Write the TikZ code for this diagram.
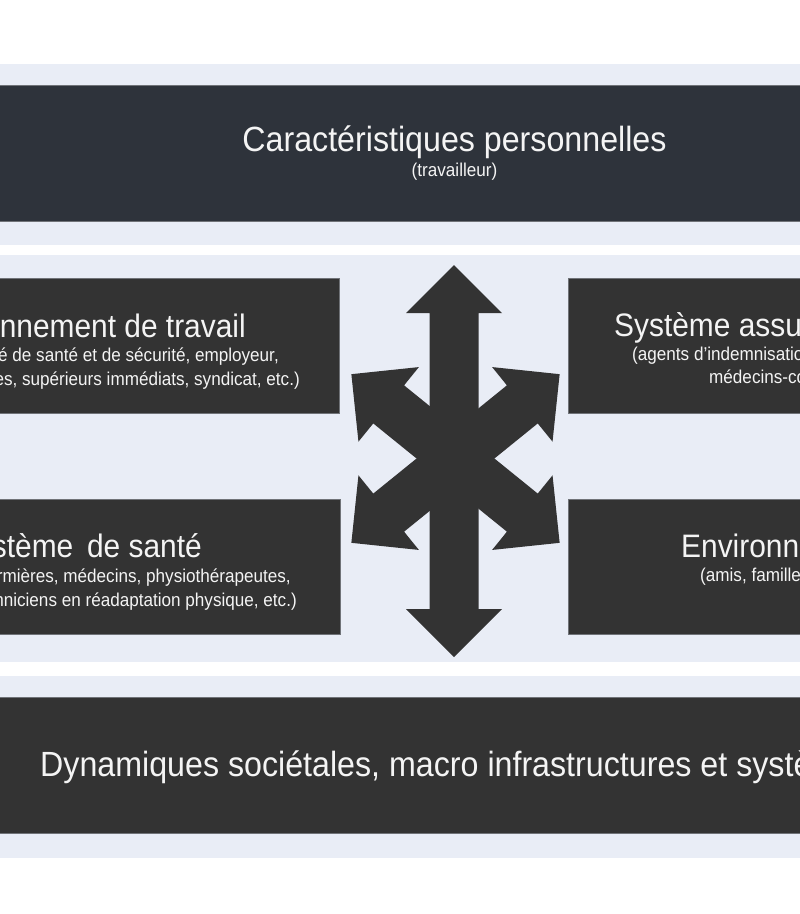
\documentclass[tikz,border=0pt]{standalone}
\usepackage{fontspec}
\setmainfont{Liberation Sans}[FakeStretch=0.92]
\definecolor{band}{HTML}{E9EDF6}
\definecolor{topbox}{HTML}{2E333B}
\definecolor{boxc}{HTML}{333333}
\definecolor{edge}{HTML}{707378}
\definecolor{txt}{HTML}{F4F4F4}
\newcommand{\DblArrow}[1]{%
  \fill[boxc] (-#1,0) -- (-#1+48,48) -- (-#1+48,24.5) -- (#1-48,24.5) -- (#1-48,48)
    -- (#1,0) -- (#1-48,-48) -- (#1-48,-24.5) -- (-#1+48,-24.5) -- (-#1+48,-48) -- cycle;}
\begin{document}
\begin{tikzpicture}[x=1pt,y=-1pt,
  bandfill/.style={fill=band},
  darkbox/.style={fill=boxc,draw=edge,line width=0.8pt},
  bigtxt/.style={text=txt,inner sep=0pt,font=\fontsize{35}{40}\selectfont},
  midtxt/.style={text=txt,inner sep=0pt,font=\fontsize{32.5}{38}\selectfont},
  smalltxt/.style={text=txt,inner sep=0pt,font=\fontsize{18.6}{22}\selectfont}]
\useasboundingbox (0,0) rectangle (800,914);
\clip (0,0) rectangle (800,914);
\fill[white] (0,0) rectangle (800,914);
% bands
\fill[bandfill] (-10,64) rectangle (810,245);
\fill[bandfill] (-10,255) rectangle (810,662);
\fill[bandfill] (-10,676) rectangle (810,858);
% top box
\draw[darkbox,fill=topbox] (-10,85) rectangle (810,221);
\node[bigtxt,anchor=base] (cp) at (454.5,151) {Caractéristiques personnelles};
\node[smalltxt,anchor=base] (cpsub) at (454.5,176) {(travailleur)};
% middle boxes
\draw[darkbox] (-10,278) rectangle (339,413);
\draw[darkbox] (568,278) rectangle (810,413);
\draw[darkbox] (-10,499) rectangle (340,634);
\draw[darkbox] (568,499) rectangle (810,634);
% left top
\node[midtxt,anchor=base east] (et) at (246,337) {Environnement de travail};
\node[smalltxt,anchor=base east] (et1) at (279,361) {(comité de santé et de sécurité, employeur,};
\node[smalltxt,anchor=base east] (et2) at (300,385) {collègues, supérieurs immédiats, syndicat, etc.)};
% right top
\node[midtxt,anchor=base west] (sa) at (614,336) {Système assureur};
\node[smalltxt,anchor=base west] (sa1) at (632,360) {(agents d’indemnisation, conseillers,};
\node[smalltxt,anchor=base west] (sa2) at (709,383) {médecins-conseils, etc.)};
% left bottom
\node[midtxt,anchor=base east] (ss) at (202,557) {Système\, de santé};
\node[smalltxt,anchor=base east] (ss1) at (291,582) {(infirmières, médecins, physiothérapeutes,};
\node[smalltxt,anchor=base east] (ss2) at (297,606) {techniciens en réadaptation physique, etc.)};
% right bottom
\node[midtxt,anchor=base west] (es) at (681,557) {Environnement social};
\node[smalltxt,anchor=base west] (es1) at (700,581) {(amis, famille, etc.)};
% bottom box
\draw[darkbox] (-10,697) rectangle (810,833);
\node[bigtxt,anchor=base west] (dyn) at (40,776) {Dynamiques sociétales, macro infrastructures et systèmes};
% star of arrows
\begin{scope}[shift={(454,461)},rotate=90]
  \DblArrow{196}
\end{scope}
\begin{scope}[shift={(455.5,458.5)},rotate=39]
  \DblArrow{134}
\end{scope}
\begin{scope}[shift={(455.5,458.5)},rotate=-39]
  \DblArrow{134}
\end{scope}
\end{tikzpicture}
\end{document}
